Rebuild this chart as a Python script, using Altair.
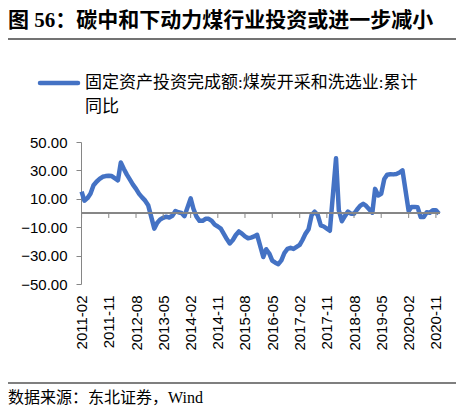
import altair as alt
import pandas as pd

TITLE = "图 56：碳中和下动力煤行业投资或进一步减小"
LEGEND_LINES = ["固定资产投资完成额:煤炭开采和洗选业:累计", "同比"]
SOURCE = "数据来源：东北证券，Wind"

# monthly cumulative YoY, Feb..Dec each year (Jan is reported together with Feb)
YEARS = list(range(2011, 2021))
MONTHS = list(range(2, 13))
V2011 = [15, 8.7, 10.5, 13.5, 19.5, 22, 24, 25.5, 26, 26.2, 26]
V2012 = [23, 35.5, 31, 27, 23.5, 20, 17, 13.5, 11, 8.7, 5.5]
V2013 = [-11, -7, -4.5, -3.4, -2.6, -3.2, -2, 1.4, 0.5, 0, -2.2]
V2014 = [10.3, 3, -2.6, -5.5, -5.5, -4.1, -4.1, -5.5, -8.2, -9.5, -11]
V2015 = [-18.5, -21.4, -19, -15.5, -13, -14.5, -16.5, -17.8, -17.3, -16.5, -15.4]
V2016 = [-31, -25.5, -28.5, -33.5, -35, -36, -33.4, -28, -25.3, -24.5, -25.3]
V2017 = [-22.5, -19, -14.5, -11.5, -1.4, 0.9, -1.4, -8.7, -9.5, -11, -12.5]
V2018 = [38.5, 2, -5.8, -2.2, 1, -0.5, -0.5, 2.5, 5, 6.5, 5]
V2019 = [0.2, 17, 12.3, 13.5, 24, 27, 27.3, 27.2, 27.5, 28.5, 30]
V2020 = [1.4, 4.3, 4.3, 4, -2.9, -2.9, 0.5, 0.2, 2, 2, -0.5]
VALUES = V2011 + V2012 + V2013 + V2014 + V2015 + V2016 + V2017 + V2018 + V2019 + V2020

TICK_MONTHS = ["2011-02", "2011-11", "2012-08", "2013-05", "2014-02", "2014-11", "2015-08",
               "2016-05", "2017-02", "2017-11", "2018-08", "2019-05", "2020-02", "2020-11"]
Y_TICKS = [-50, -30, -10, 10, 30, 50]

BLUE = "#4472C4"
GREY = "#868686"
CJK = "Liberation Serif, Noto Sans CJK SC"
LATIN = "Liberation Sans, Arial"

dates = [pd.Timestamp(year=y, month=m, day=1) for y in YEARS for m in MONTHS]
df = pd.DataFrame({"date": dates, "value": VALUES})
ticks_df = pd.DataFrame({"date": [pd.Timestamp(t + "-01") for t in TICK_MONTHS]})


def dt(s):
    y, m = s.split("-")[:2]
    return alt.DateTime(year=int(y), month=int(m), date=1)


x_scale = alt.Scale(domain=[alt.DateTime(year=2011, month=1, date=26),
                            alt.DateTime(year=2020, month=12, date=12)])
y_scale = alt.Scale(domain=[-50, 50], nice=False)

# same axis objects on every layer so merging has nothing to argue about
x_axis = alt.Axis(values=[dt(t) for t in TICK_MONTHS], format="%Y-%m", title=None,
                  labelAngle=270, labelAlign="right", labelBaseline="middle",
                  labelPadding=11, ticks=False, domain=False, grid=False,
                  labelOverlap=False, labelFlush=False)
y_axis = alt.Axis(values=Y_TICKS, format=".2f", title=None, grid=False,
                  tickSize=5, labelPadding=9, labelOverlap=False, labelFlush=False)

line = alt.Chart(df).mark_line(color=BLUE, strokeWidth=4.5, strokeJoin="round").encode(
    x=alt.X("date:T", scale=x_scale, axis=x_axis),
    y=alt.Y("value:Q", scale=y_scale, axis=y_axis),
)

zero = alt.Chart(df).mark_rule(color=GREY, strokeWidth=1).encode(
    y=alt.YDatum(0, scale=y_scale, axis=y_axis)
)

zero_ticks = alt.Chart(ticks_df).mark_rule(color=GREY, strokeWidth=1).encode(
    x=alt.X("date:T", scale=x_scale, axis=x_axis),
    y=alt.YDatum(0, scale=y_scale, axis=y_axis),
    y2=alt.datum(-3.5),
)

title = alt.Chart(pd.DataFrame({"t": [TITLE]})).mark_text(
    font=CJK, fontSize=21, fontWeight="bold", align="left", baseline="middle", color="#000"
).encode(text="t:N", x=alt.value(-73), y=alt.value(-121))

top_rule = alt.Chart(pd.DataFrame({"t": [0]})).mark_rule(color="#444", strokeWidth=1.5).encode(
    x=alt.value(-73), x2=alt.value(375), y=alt.value(-103)
)

legend_sym = alt.Chart(pd.DataFrame({"t": [0]})).mark_rule(
    color=BLUE, strokeWidth=4.5, strokeCap="round"
).encode(x=alt.value(-41), x2=alt.value(-3), y=alt.value(-59))

legend_txt = alt.Chart(pd.DataFrame({"t": ["\n".join(LEGEND_LINES)]})).mark_text(
    font=CJK, fontSize=17, align="left", baseline="middle", lineBreak="\n",
    lineHeight=24, color="#000"
).encode(text="t:N", x=alt.value(4), y=alt.value(-59))

bottom_rule = alt.Chart(pd.DataFrame({"t": [0]})).mark_rule(color="#555", strokeWidth=1.5).encode(
    x=alt.value(-73), x2=alt.value(375), y=alt.value(241)
)

source = alt.Chart(pd.DataFrame({"t": [SOURCE]})).mark_text(
    font=CJK, fontSize=16, align="left", baseline="middle", color="#000"
).encode(text="t:N", x=alt.value(-73), y=alt.value(256))

chart = alt.layer(
    line, zero, zero_ticks, title, top_rule, legend_sym, legend_txt, bottom_rule, source
).properties(
    width=359, height=142, autosize="none",
    padding={"left": 73, "top": 134, "right": 16, "bottom": 124},
).configure_view(
    stroke=None
).configure_axis(
    labelOverlap=False, labelFont=LATIN, labelFontSize=15, labelColor="#000",
    domainColor=GREY, tickColor=GREY,
)

chart.save("out.html", embed_options={"renderer": "svg", "actions": False})
